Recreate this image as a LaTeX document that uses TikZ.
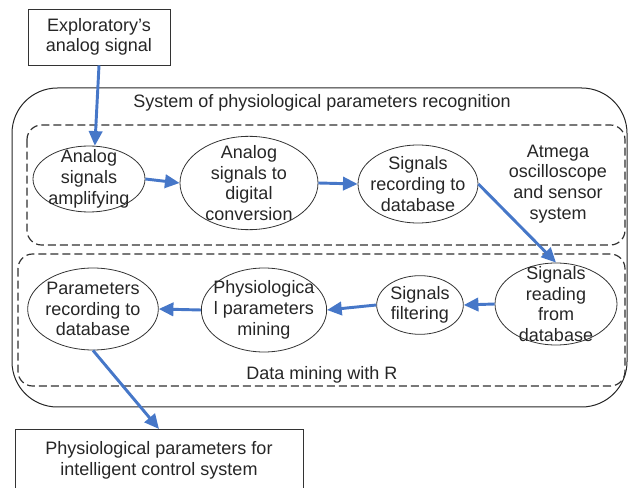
\documentclass[tikz,border=0pt]{standalone}
\usepackage{fontspec}
\setmainfont{Liberation Sans}
\usetikzlibrary{arrows.meta,shapes.geometric}
\definecolor{flowblue}{HTML}{4677C8}
\definecolor{framegray}{HTML}{303030}

\begin{document}
\begin{tikzpicture}[
  x=0.75pt,y=-0.75pt,
  >={Triangle[length=11pt,width=10pt]},
  proc/.style={draw=black!80,ellipse,inner sep=-8pt,align=center,line width=0.6pt},
  io/.style={draw=black!80,rectangle,align=center,line width=0.6pt},
  flow/.style={flowblue,line width=2.2pt,->},
  zone/.style={draw=framegray,dash pattern=on 6pt off 3pt,rounded corners=11pt,line width=0.9pt},
  every node/.style={font=\fontsize{13.5}{15.5}\selectfont,text=black!85}
]
  \useasboundingbox (0,0) rectangle (629,488);
  \draw[black!85,line width=0.75pt,rounded corners=34pt] (12,88) rectangle (627,407);
  \draw[zone] (27,125) rectangle (625,245);
  \draw[zone] (18,254) rectangle (625,386);
  \node (systitle) at (322,103) {System of physiological parameters recognition};
  \node[align=center] (atmega) at (558,184) {Atmega\\oscilloscope\\and sensor\\system};
  \node (mining) at (322,375) {Data mining with R};

  \node[io,minimum width=106.5pt,minimum height=42pt] (expl) at (99,37) {Exploratory’s\\analog signal};
  \node[io,anchor=north,minimum width=216pt,minimum height=46pt] (out) at (159,429)
    {Physiological parameters for\\intelligent control system};

  \node[proc,minimum width=84pt,minimum height=49.5pt] (amp) at (89,179) {Analog\\signals\\amplifying};
  \node[proc,minimum width=103.5pt,minimum height=70pt] (adc) at (249,183) {Analog\\signals to\\digital\\conversion};
  \node[proc,minimum width=90pt,minimum height=58.5pt] (rec) at (418,184) {Signals\\recording to\\database};
  \node[proc,minimum width=91.5pt,minimum height=61.5pt] (read) at (556,304) {Signals\\reading\\from\\database};
  \node[proc,minimum width=65pt,minimum height=44pt] (filt) at (420,305) {Signals\\filtering};
  \node[proc,minimum width=94pt,minimum height=63pt] (mine) at (264,310) {Physiologica\\l parameters\\mining};
  \node[proc,minimum width=98pt,minimum height=61.5pt] (prmrec) at (93,309) {Parameters\\recording to\\database};

  \draw[flow] (expl.south) -- (amp.80);
  \draw[flow] (amp.east) -- (adc.west);
  \draw[flow] (adc.east) -- (rec.west);
  \draw[flow] (rec.east) -- (read.north);
  \draw[flow] (read.west) -- (filt.east);
  \draw[flow] (filt.west) -- (mine.east);
  \draw[flow] (mine.west) -- (prmrec.east);
  \draw[flow] (prmrec.south) -- (out.north);
\end{tikzpicture}
\end{document}
